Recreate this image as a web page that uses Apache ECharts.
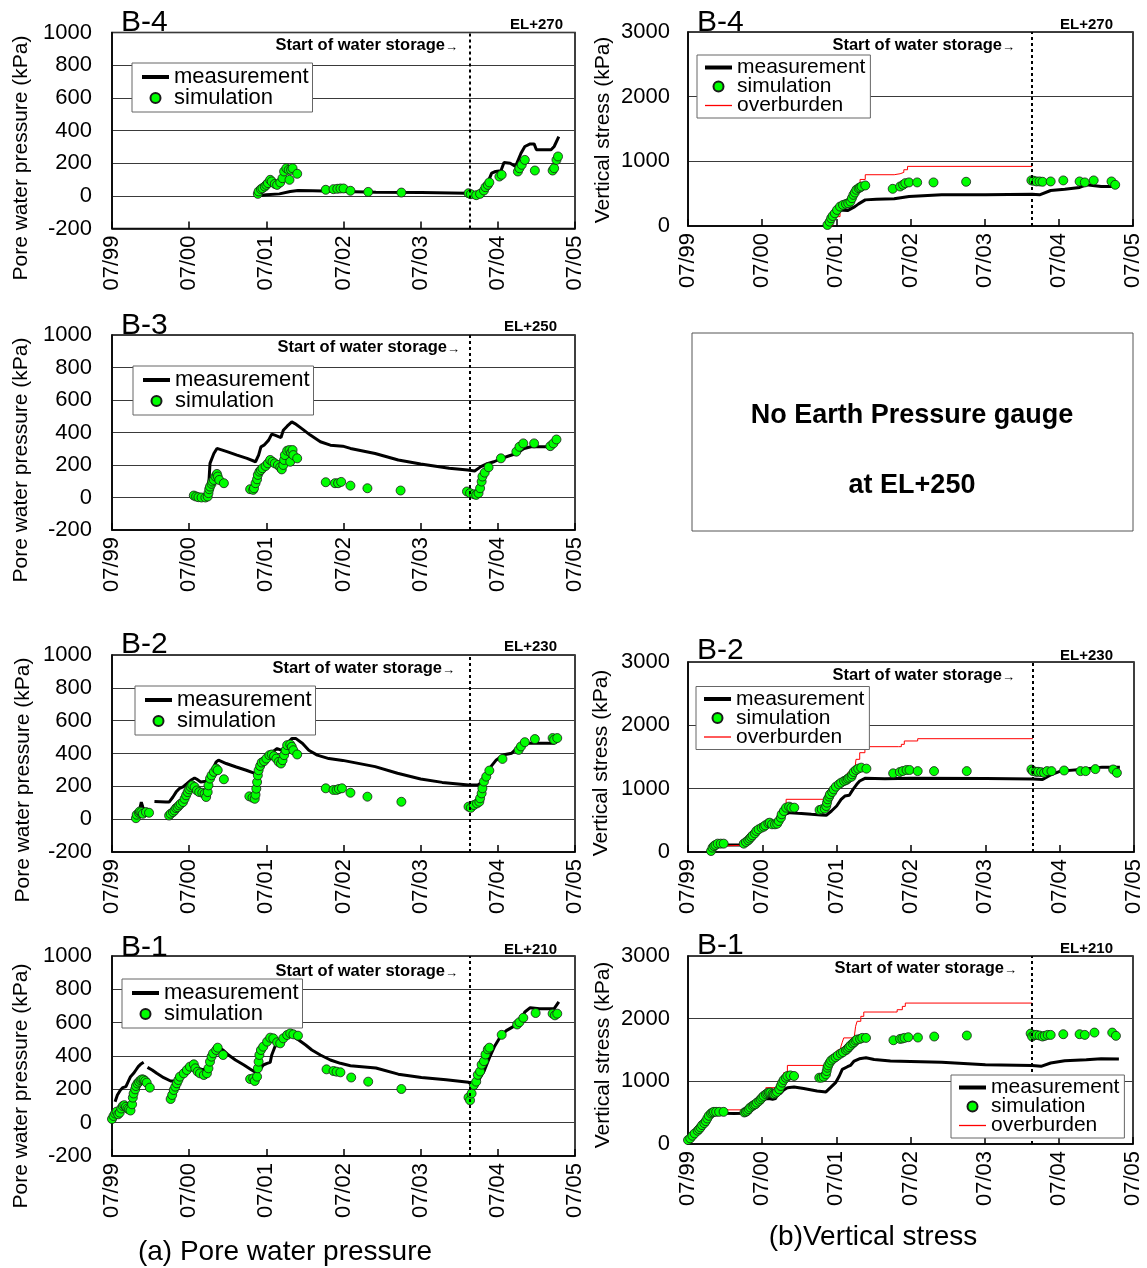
<!DOCTYPE html>
<html><head><meta charset="utf-8">
<script src="https://cdn.jsdelivr.net/npm/echarts@6/dist/echarts.min.js"></script>
<style>html,body{margin:0;padding:0;background:#fff}#c{width:1147px;height:1268px}</style>
</head><body><div id="c"></div>
<script>
// x = years since 07/1999
const tickLabels = ['07/99','07/00','07/01','07/02','07/03','07/04','07/05'];
const storageStart = 4.64;

// ---- B-4 (EL+270) ----
const b4PwpMeas = [[1.92,2],[2.00,6],[2.17,12],[2.31,27],[2.41,33],[2.60,31],[3.00,27],[3.42,22],[4.01,20],[4.60,16],[4.70,-4],[4.77,0],[4.84,47],[4.92,139],[4.97,149],[5.04,153],[5.08,204],[5.16,200],[5.23,180],[5.30,261],[5.35,302],[5.42,318],[5.47,318],[5.50,282],[5.69,282],[5.73,302],[5.79,363]];
const b4PwpSim = [[1.89,12],[1.90,27],[1.93,41],[1.95,47],[1.98,57],[2.00,67],[2.02,78],[2.05,98],[2.07,88],[2.11,73],[2.14,67],[2.18,82],[2.21,108],[2.23,149],[2.26,169],[2.29,159],[2.30,98],[2.32,159],[2.34,169],[2.40,135],[2.77,37],[2.87,41],[2.92,43],[2.96,45],[3.00,45],[3.09,31],[3.32,24],[3.75,20],[4.62,16],[4.65,10],[4.72,4],[4.77,12],[4.82,33],[4.84,53],[4.87,67],[4.89,82],[5.02,118],[5.05,129],[5.26,149],[5.28,169],[5.31,190],[5.35,220],[5.48,155],[5.71,155],[5.73,169],[5.76,220],[5.78,241]];
const b4VsMeas = [[1.88,0],[1.95,145],[2.05,249],[2.15,238],[2.25,300],[2.30,342],[2.39,404],[2.54,414],[2.78,420],[2.98,456],[3.42,482],[4.01,482],[4.64,492],[4.74,482],[4.89,549],[5.08,570],[5.28,596],[5.37,637],[5.57,611],[5.81,611]];
const b4VsSim = [[1.88,16],[1.91,67],[1.93,119],[1.95,155],[1.98,197],[2.01,249],[2.05,300],[2.09,326],[2.13,342],[2.16,352],[2.19,378],[2.21,430],[2.23,482],[2.25,518],[2.27,560],[2.30,585],[2.32,596],[2.34,611],[2.39,627],[2.76,575],[2.86,611],[2.90,637],[2.93,663],[2.98,674],[3.09,674],[3.31,674],[3.75,684],[4.63,705],[4.66,700],[4.70,689],[4.74,689],[4.78,684],[4.89,689],[5.06,705],[5.28,689],[5.35,674],[5.47,705],[5.71,689],[5.76,637]];
const b4VsOver = [[1.88,0],[1.95,145],[2.05,300],[2.15,404],[2.22,534],[2.27,640],[2.32,720],[2.39,793],[2.78,808],[2.86,829],[2.91,870],[2.96,922],[4.64,922]];

// ---- B-3 (EL+250) ----
const b3PwpMeas = [[1.24,0],[1.25,60],[1.26,129],[1.27,210],[1.32,271],[1.36,302],[1.49,282],[1.62,261],[1.75,241],[1.86,220],[1.90,261],[1.93,312],[1.97,322],[2.03,353],[2.07,390],[2.11,384],[2.19,369],[2.22,414],[2.27,439],[2.33,465],[2.37,455],[2.46,424],[2.57,384],[2.70,343],[2.83,322],[2.99,316],[3.09,302],[3.41,271],[3.71,231],[4.00,206],[4.37,180],[4.61,169],[4.70,163],[4.78,190],[4.85,206],[4.95,220],[5.05,241],[5.15,257],[5.24,271],[5.34,302],[5.43,312],[5.70,312],[5.77,343]];
const b3PwpSim = [[1.06,12],[1.09,6],[1.12,2],[1.16,0],[1.21,0],[1.24,6],[1.25,27],[1.26,51],[1.27,67],[1.29,84],[1.30,98],[1.32,108],[1.34,129],[1.36,145],[1.37,129],[1.39,108],[1.45,88],[1.79,51],[1.83,47],[1.84,57],[1.86,88],[1.88,112],[1.89,139],[1.91,159],[1.93,169],[1.95,180],[1.99,194],[2.02,210],[2.05,231],[2.08,220],[2.11,210],[2.15,200],[2.18,186],[2.20,173],[2.22,200],[2.23,231],[2.24,261],[2.27,288],[2.30,292],[2.31,220],[2.32,275],[2.34,292],[2.35,261],[2.40,241],[2.77,94],[2.89,88],[2.93,88],[2.97,96],[3.09,73],[3.31,57],[3.74,43],[4.60,37],[4.64,27],[4.69,20],[4.72,16],[4.75,27],[4.77,57],[4.79,98],[4.80,129],[4.83,153],[4.88,186],[5.04,241],[5.24,282],[5.28,312],[5.33,333],[5.47,333],[5.68,316],[5.72,333],[5.76,357]];

// ---- B-2 (EL+230) ----
const b2PwpMeasA = [[0.33,22],[0.36,63],[0.38,104],[0.40,73],[0.44,43]];
const b2PwpMeasB = [[0.55,108],[0.70,104],[0.74,104],[0.79,135],[0.83,165],[0.87,186],[0.92,196],[0.97,216],[1.02,237],[1.07,251],[1.10,243],[1.15,227],[1.22,231],[1.26,257],[1.30,298],[1.35,349],[1.38,359],[1.48,339],[1.61,318],[1.74,298],[1.86,277],[1.93,298],[1.97,339],[2.02,369],[2.08,410],[2.14,430],[2.19,420],[2.23,430],[2.27,461],[2.33,492],[2.38,492],[2.47,461],[2.55,420],[2.66,390],[2.81,369],[2.99,358],[3.41,320],[3.70,280],[4.00,245],[4.28,224],[4.62,208],[4.74,208],[4.81,229],[4.86,269],[4.91,320],[4.98,361],[5.08,392],[5.18,402],[5.25,433],[5.32,463],[5.73,463],[5.78,484]];
const b2PwpSim = [[0.31,6],[0.32,27],[0.35,39],[0.36,47],[0.38,43],[0.40,33],[0.44,43],[0.48,39],[0.74,22],[0.76,33],[0.79,43],[0.81,53],[0.83,67],[0.85,73],[0.87,84],[0.89,94],[0.92,104],[0.94,124],[0.96,145],[0.98,165],[1.00,182],[1.02,196],[1.04,206],[1.07,196],[1.10,175],[1.13,165],[1.17,161],[1.20,155],[1.22,135],[1.24,165],[1.25,206],[1.27,247],[1.29,267],[1.32,288],[1.35,308],[1.37,298],[1.45,243],[1.78,139],[1.82,131],[1.85,124],[1.86,149],[1.87,186],[1.88,226],[1.89,267],[1.90,298],[1.92,324],[1.94,345],[1.97,353],[2.00,369],[2.04,390],[2.07,394],[2.10,384],[2.13,369],[2.16,349],[2.19,339],[2.21,359],[2.23,390],[2.25,420],[2.27,451],[2.31,455],[2.33,441],[2.35,420],[2.40,394],[2.77,188],[2.87,178],[2.91,178],[2.94,184],[2.98,188],[3.09,161],[3.31,137],[3.75,106],[4.62,76],[4.65,69],[4.69,86],[4.73,96],[4.76,106],[4.77,127],[4.79,157],[4.80,188],[4.82,229],[4.85,259],[4.89,296],[5.06,367],[5.27,422],[5.30,443],[5.35,469],[5.48,488],[5.71,494],[5.73,484],[5.77,494]];
const b2VsMeas = [[0.31,16],[0.34,95],[0.37,110],[0.74,110],[0.81,200],[0.90,279],[0.96,332],[1.03,384],[1.10,421],[1.14,421],[1.21,453],[1.26,516],[1.30,595],[1.37,621],[1.48,611],[1.66,595],[1.79,584],[1.86,579],[1.93,647],[2.00,726],[2.06,832],[2.11,884],[2.17,895],[2.22,989],[2.27,1068],[2.31,1121],[2.38,1163],[2.65,1158],[3.00,1163],[4.01,1160],[4.64,1154],[4.77,1144],[4.89,1223],[5.01,1277],[5.28,1303],[5.57,1340],[5.81,1340]];
const b2VsSim = [[0.31,16],[0.33,68],[0.35,95],[0.37,111],[0.40,132],[0.44,132],[0.48,132],[0.75,132],[0.78,158],[0.81,184],[0.83,211],[0.85,237],[0.87,263],[0.90,295],[0.92,332],[0.95,358],[0.99,384],[1.02,400],[1.04,421],[1.08,453],[1.10,463],[1.13,437],[1.17,437],[1.20,447],[1.22,489],[1.25,542],[1.26,595],[1.29,647],[1.32,700],[1.36,716],[1.39,700],[1.43,700],[1.77,663],[1.80,674],[1.84,684],[1.86,726],[1.87,779],[1.88,832],[1.90,874],[1.91,911],[1.94,947],[1.96,989],[1.99,1032],[2.03,1068],[2.06,1095],[2.10,1121],[2.13,1137],[2.15,1158],[2.17,1174],[2.20,1189],[2.21,1226],[2.23,1263],[2.26,1295],[2.29,1316],[2.33,1332],[2.40,1316],[2.76,1242],[2.85,1263],[2.89,1279],[2.94,1295],[2.98,1295],[3.09,1277],[3.31,1277],[3.75,1277],[4.62,1303],[4.64,1277],[4.68,1266],[4.71,1266],[4.75,1261],[4.79,1250],[4.83,1277],[4.89,1277],[5.06,1287],[5.28,1277],[5.35,1277],[5.48,1309],[5.72,1303],[5.77,1250]];
const b2VsOver = [[0.31,16],[0.34,95],[0.37,105],[0.74,105],[0.78,160],[0.82,210],[0.85,253],[0.90,290],[0.95,340],[1.03,400],[1.10,450],[1.18,520],[1.23,595],[1.27,700],[1.32,832],[1.86,832],[1.89,979],[1.95,1010],[1.99,1042],[2.06,1121],[2.13,1200],[2.15,1253],[2.24,1253],[2.26,1463],[2.31,1568],[2.38,1663],[2.83,1663],[2.87,1700],[2.91,1753],[3.09,1789],[4.64,1789]];

// ---- B-1 (EL+210) ----
const b1PwpMeasA = [[0.04,126],[0.07,166],[0.11,196],[0.14,210],[0.18,216],[0.21,246],[0.24,276],[0.28,296],[0.31,316],[0.34,336],[0.37,350],[0.41,362]];
const b1PwpMeasB = [[0.46,332],[0.52,316],[0.58,296],[0.67,270],[0.76,250],[0.82,250],[0.86,266],[0.91,290],[0.95,306],[1.01,316],[1.12,326],[1.19,316],[1.25,346],[1.29,396],[1.34,426],[1.38,450],[1.44,436],[1.51,406],[1.60,376],[1.71,346],[1.81,316],[1.88,296],[1.96,346],[2.01,356],[2.05,362],[2.07,406],[2.12,466],[2.18,496],[2.25,506],[2.31,522],[2.35,516],[2.42,496],[2.51,466],[2.59,436],[2.70,406],[2.83,376],[2.96,356],[3.09,342],[3.42,328],[3.71,291],[4.01,271],[4.33,257],[4.62,242],[4.68,226],[4.74,246],[4.82,308],[4.89,389],[4.96,460],[5.04,521],[5.11,552],[5.20,576],[5.28,597],[5.35,664],[5.42,690],[5.54,684],[5.73,684],[5.79,725]];
const b1PwpSim = [[0.00,22],[0.02,40],[0.04,55],[0.06,66],[0.08,50],[0.10,60],[0.12,85],[0.14,100],[0.16,105],[0.18,95],[0.20,85],[0.22,80],[0.24,73],[0.26,110],[0.27,150],[0.28,175],[0.30,200],[0.31,220],[0.33,235],[0.35,245],[0.37,255],[0.39,260],[0.41,258],[0.43,250],[0.45,240],[0.49,210],[0.76,142],[0.78,166],[0.80,196],[0.82,216],[0.84,236],[0.86,256],[0.88,276],[0.93,296],[0.97,316],[1.01,336],[1.06,350],[1.08,326],[1.11,306],[1.14,296],[1.19,286],[1.23,296],[1.25,326],[1.27,366],[1.29,396],[1.31,416],[1.35,436],[1.37,450],[1.44,406],[1.79,262],[1.83,266],[1.85,250],[1.88,276],[1.89,326],[1.90,366],[1.91,406],[1.93,436],[1.96,456],[2.01,486],[2.05,510],[2.09,506],[2.14,482],[2.18,476],[2.22,506],[2.27,526],[2.31,536],[2.35,530],[2.41,522],[2.78,320],[2.87,310],[2.91,306],[2.96,302],[3.10,271],[3.32,246],[3.75,202],[4.62,151],[4.64,134],[4.66,175],[4.69,226],[4.72,246],[4.74,287],[4.77,307],[4.79,348],[4.82,369],[4.84,409],[4.87,440],[4.89,450],[5.05,527],[5.25,589],[5.28,603],[5.33,629],[5.49,658],[5.71,654],[5.74,644],[5.77,654]];
const b1VsMeas = [[0.00,37],[0.06,132],[0.13,238],[0.19,317],[0.26,407],[0.31,492],[0.35,529],[0.40,513],[0.49,492],[0.62,487],[0.76,492],[0.82,556],[0.89,619],[0.96,672],[1.02,714],[1.09,725],[1.14,714],[1.18,725],[1.20,778],[1.25,810],[1.29,862],[1.34,899],[1.43,910],[1.56,884],[1.74,847],[1.86,831],[1.92,899],[1.99,979],[2.04,1085],[2.08,1190],[2.15,1233],[2.19,1254],[2.24,1323],[2.31,1360],[2.40,1376],[2.51,1349],[2.73,1323],[3.00,1315],[3.42,1303],[4.01,1266],[4.64,1251],[4.76,1240],[4.89,1293],[5.08,1330],[5.37,1346],[5.57,1361],[5.81,1356]];
const b1VsSim = [[0.00,63],[0.03,90],[0.06,132],[0.09,169],[0.13,212],[0.15,238],[0.17,265],[0.19,302],[0.22,333],[0.24,365],[0.26,407],[0.28,450],[0.31,487],[0.33,503],[0.35,513],[0.38,513],[0.42,513],[0.48,513],[0.76,503],[0.78,513],[0.80,529],[0.82,556],[0.84,582],[0.87,608],[0.89,624],[0.91,635],[0.93,661],[0.96,688],[0.98,714],[1.00,741],[1.02,767],[1.05,794],[1.07,810],[1.09,820],[1.11,820],[1.14,804],[1.16,794],[1.18,810],[1.20,831],[1.23,873],[1.25,926],[1.27,979],[1.29,1021],[1.32,1058],[1.34,1085],[1.38,1095],[1.43,1085],[1.77,1058],[1.80,1058],[1.83,1074],[1.86,1111],[1.87,1164],[1.88,1217],[1.89,1254],[1.91,1296],[1.93,1333],[1.96,1360],[1.99,1386],[2.02,1413],[2.06,1444],[2.09,1466],[2.13,1497],[2.15,1519],[2.17,1545],[2.19,1571],[2.22,1603],[2.24,1624],[2.26,1651],[2.28,1667],[2.32,1677],[2.35,1693],[2.40,1693],[2.77,1656],[2.86,1677],[2.89,1683],[2.92,1693],[2.97,1704],[3.10,1699],[3.32,1715],[3.76,1731],[4.62,1762],[4.64,1715],[4.67,1741],[4.70,1741],[4.74,1731],[4.78,1715],[4.81,1726],[4.85,1741],[4.89,1741],[5.06,1752],[5.28,1752],[5.35,1741],[5.48,1778],[5.72,1778],[5.77,1726]];
const b1VsOver = [[0.00,37],[0.06,132],[0.13,238],[0.19,317],[0.26,407],[0.31,492],[0.35,545],[0.76,545],[0.80,560],[0.85,600],[0.90,640],[0.95,690],[1.00,760],[1.02,847],[1.05,899],[1.22,899],[1.25,1000],[1.29,1138],[1.34,1254],[1.88,1254],[1.90,1349],[1.95,1429],[2.01,1497],[2.06,1550],[2.08,1624],[2.10,1693],[2.24,1693],[2.26,1878],[2.28,1958],[2.33,2037],[2.37,2106],[2.78,2106],[2.82,2143],[2.89,2196],[2.93,2249],[4.64,2249]];

const FONT = '"Liberation Sans", Arial, Helvetica, sans-serif';

const panels = [
  {meas:[b4PwpMeas], sim:b4PwpSim, over:null, kind:'pwp', box:[112,32.5,463,196], title:'B-4', el:'EL+270', titleY:23, elX:563, elY:25, stX:458, stY:45.5, nameX:21, nameY:158, leg:[132,63]},
  {meas:[b4VsMeas], sim:b4VsSim, over:b4VsOver, kind:'vs', box:[688,32,445,194], title:'B-4', el:'EL+270', titleY:23, elX:1113, elY:25, stX:1015, stY:45, nameX:603, nameY:130, leg:[697,55]},
  {meas:[b3PwpMeas], sim:b3PwpSim, over:null, kind:'pwp', box:[112,335,463,195], title:'B-3', el:'EL+250', titleY:326, elX:557, elY:327, stX:460, stY:347, nameX:21, nameY:460, leg:[133,366]},
  {meas:[b2PwpMeasA,b2PwpMeasB], sim:b2PwpSim, over:null, kind:'pwp', box:[112,655,463,197], title:'B-2', el:'EL+230', titleY:645, elX:557, elY:647, stX:455, stY:668, nameX:23, nameY:780, leg:[135,686]},
  {meas:[b2VsMeas], sim:b2VsSim, over:b2VsOver, kind:'vs', box:[688,662,446,190], title:'B-2', el:'EL+230', titleY:651, elX:1113, elY:656, stX:1015, stY:675, nameX:601, nameY:763, leg:[696,686.5]},
  {meas:[b1PwpMeasA,b1PwpMeasB], sim:b1PwpSim, over:null, kind:'pwp', box:[112,956,463,200], title:'B-1', el:'EL+210', titleY:948, elX:557, elY:950, stX:458, stY:971, nameX:21, nameY:1086, leg:[122,979]},
  {meas:[b1VsMeas], sim:b1VsSim, over:b1VsOver, kind:'vs', box:[688,956,445,188], title:'B-1', el:'EL+210', titleY:946, elX:1113, elY:949, stX:1017, stY:968, nameX:603, nameY:1055, leg:[951,1075]}
];

const grid=[], xAxis=[], yAxis=[], series=[], legend=[], graphic=[];
panels.forEach((p,i)=>{
  const [l,t,w,h]=p.box;
  grid.push({left:l, top:t, width:w, height:h, show:true, borderColor:'#000', borderWidth:1.5, backgroundColor:'#fff'});
  xAxis.push({gridIndex:i, type:'value', min:0, max:6, interval:1,
    axisLine:{show:true, onZero:false, lineStyle:{color:'#000', width:1.5}},
    axisTick:{show:true, inside:true, length:7, lineStyle:{color:'#000', width:1.5}},
    splitLine:{show:false},
    axisLabel:{rotate:90, fontSize:22, color:'#000', fontFamily:FONT, margin:7, showMinLabel:true, showMaxLabel:true,
      formatter:v=>tickLabels[Math.round(v)]}});
  const isP = p.kind==='pwp';
  yAxis.push({gridIndex:i, type:'value', min:isP?-200:0, max:isP?1000:3000, interval:isP?200:1000,
    axisLine:{show:true, lineStyle:{color:'#000', width:1.5}}, axisTick:{show:false},
    splitLine:{show:true, lineStyle:{color:'#3a3a3a', width:1}},
    axisLabel:{fontSize:22, color:'#000', fontFamily:FONT, margin:isP?20:18, showMinLabel:true, showMaxLabel:true,
      formatter:v=>String(v)}});
  p.meas.forEach((seg,k)=>{
    const s={name:'measurement', type:'line', xAxisIndex:i, yAxisIndex:i, data:seg, symbol:'none', showSymbol:false,
      lineStyle:{color:'#000', width:3}, itemStyle:{color:'#000'}, z:2};
    if(k===0){ s.markLine={silent:true, symbol:['none','none'], label:{show:false},
      lineStyle:{color:'#000', type:[3,3], width:2}, data:[{xAxis:storageStart}]}; }
    series.push(s);
  });
  if(p.over){
    series.push({name:'overburden', type:'line', step:'end', xAxisIndex:i, yAxisIndex:i, data:p.over, symbol:'none', showSymbol:false,
      lineStyle:{color:'#ff0000', width:1}, itemStyle:{color:'#ff0000'}, z:3});
  }
  series.push({name:'simulation', type:'scatter', xAxisIndex:i, yAxisIndex:i, data:p.sim, symbol:'circle', symbolSize:9,
    itemStyle:{color:'#00ff00', borderColor:'#1a1a1a', borderWidth:0.8, opacity:1}, z:4});
  const ld = [{name:'measurement', itemStyle:{opacity:0}, lineStyle:{width:4, color:'#000'}}, {name:'simulation'}];
  if(p.over) ld.push({name:'overburden', itemStyle:{opacity:0}, lineStyle:{width:1.3, color:'#ff0000'}});
  legend.push({left:p.leg[0], top:p.leg[1], orient:'vertical', selectedMode:false, z:30,
    data: ld,
    backgroundColor:'#fff', borderColor:'#666', borderWidth:1,
    padding: p.over?[2,5,2,6]:[3,4,3,8], itemGap: p.over?-2:-1, itemWidth:27, itemHeight:10,
    textStyle:{fontSize:p.over?21:22, color:'#000', fontFamily:FONT}});
  graphic.push({type:'text', x:l+9, y:p.titleY, z:100, style:{text:p.title, fontSize:30, fontFamily:FONT, fill:'#000', align:'left', verticalAlign:'middle'}});
  graphic.push({type:'text', x:p.elX, y:p.elY, z:100, style:{text:p.el, fontSize:15, fontWeight:'bold', fontFamily:FONT, fill:'#000', align:'right', verticalAlign:'middle'}});
  graphic.push({type:'text', x:p.stX, y:p.stY, z:100, style:{text:'{t|Start of water storage}{a|→}', fontFamily:FONT, fill:'#000', align:'right', verticalAlign:'middle',
    rich:{t:{fontSize:16.5, fontWeight:'bold', fontFamily:FONT}, a:{fontSize:13, fontWeight:'bold', fontFamily:FONT, padding:[4,0,0,0]}}}});
  graphic.push({type:'text', x:p.nameX, y:p.nameY, rotation:Math.PI/2, z:100, style:{text:isP?'Pore water pressure (kPa)':'Vertical stress (kPa)', fontSize:21, fontFamily:FONT, fill:'#000', align:'center', verticalAlign:'middle'}});
});
// B-3 has no earth pressure gauge
graphic.push({type:'rect', shape:{x:692, y:333, width:441, height:198}, z:50, style:{fill:'#fff', stroke:'#555', lineWidth:1}});
graphic.push({type:'text', x:912, y:416, z:100, style:{text:'No Earth Pressure gauge', fontSize:27, fontWeight:'bold', fontFamily:FONT, fill:'#000', align:'center', verticalAlign:'middle'}});
graphic.push({type:'text', x:912, y:486, z:100, style:{text:'at EL+250', fontSize:27, fontWeight:'bold', fontFamily:FONT, fill:'#000', align:'center', verticalAlign:'middle'}});
// captions
graphic.push({type:'text', x:285, y:1252, z:100, style:{text:'(a) Pore water pressure', fontSize:28, fontFamily:FONT, fill:'#000', align:'center', verticalAlign:'middle'}});
graphic.push({type:'text', x:873, y:1237, z:100, style:{text:'(b)Vertical stress', fontSize:28, fontFamily:FONT, fill:'#000', align:'center', verticalAlign:'middle'}});

const chart = echarts.init(document.getElementById('c'), null, {renderer:'canvas'});
chart.setOption({animation:false, backgroundColor:'#fff', textStyle:{fontFamily:FONT}, grid, xAxis, yAxis, series, legend, graphic});
</script>
</body></html>
